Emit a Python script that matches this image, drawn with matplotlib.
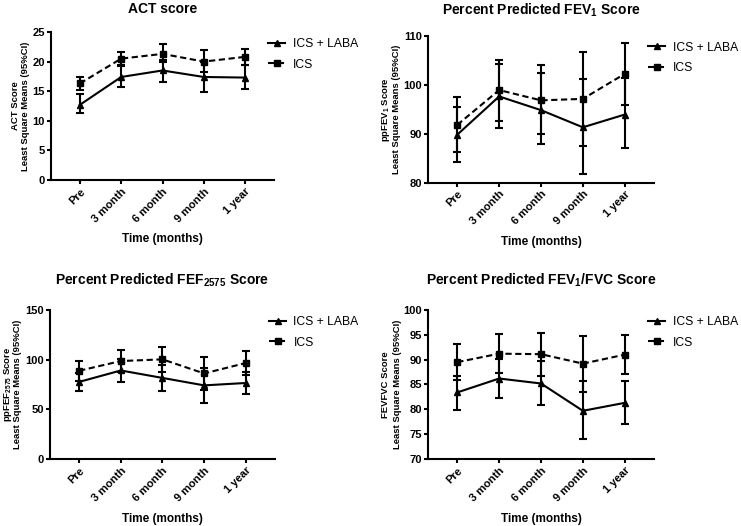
import matplotlib
matplotlib.use('Agg')
import matplotlib.pyplot as plt

plt.rcParams['font.family'] = ['Liberation Sans', 'DejaVu Sans']
plt.rcParams['mathtext.default'] = 'regular'

timepoints = ['Pre', '3 month', '6 month', '9 month', '1 year']

# ACT score
act_laba = [12.7, 17.4, 18.5, 17.4, 17.3]
act_laba_lo = [11.3, 15.7, 16.6, 14.8, 15.3]
act_laba_hi = [14.5, 19.4, 20.3, 20.0, 19.5]
act_ics = [16.3, 20.5, 21.3, 20.0, 20.8]
act_ics_lo = [15.2, 19.2, 20.0, 18.2, 19.5]
act_ics_hi = [17.4, 21.7, 22.9, 22.0, 22.2]

# ppFEV1
fev_laba = [89.8, 97.6, 94.8, 91.3, 93.9]
fev_laba_lo = [84.3, 91.1, 87.8, 81.7, 87.0]
fev_laba_hi = [95.4, 104.2, 102.3, 101.1, 101.3]
fev_ics = [91.8, 98.9, 96.8, 97.1, 102.2]
fev_ics_lo = [86.2, 92.6, 89.9, 87.4, 95.9]
fev_ics_hi = [97.4, 105.1, 104.0, 106.6, 108.5]

# ppFEF2575
fef_laba = [77.6, 89.1, 81.6, 74.1, 76.5]
fef_laba_lo = [68.7, 77.6, 68.7, 56.5, 65.0]
fef_laba_hi = [86.6, 100.6, 94.5, 91.7, 88.0]
fef_ics = [88.8, 98.6, 100.3, 86.1, 96.6]
fef_ics_lo = [78.6, 87.7, 88.0, 69.8, 85.0]
fef_ics_hi = [99.0, 109.5, 112.6, 102.4, 108.2]

# FEV1/FVC
fvc_laba = [83.4, 86.2, 85.2, 79.7, 81.3]
fvc_laba_lo = [79.9, 82.3, 80.8, 74.0, 77.0]
fvc_laba_hi = [86.7, 90.2, 89.7, 85.6, 85.7]
fvc_ics = [89.5, 91.2, 91.1, 89.2, 91.0]
fvc_ics_lo = [86.0, 87.3, 86.7, 83.5, 87.1]
fvc_ics_hi = [93.1, 95.2, 95.3, 94.8, 94.9]

fig = plt.figure(figsize=(7.41, 5.26), dpi=100)

panels = [
    dict(rect=[0.0688, 0.6578, 0.301, 0.2814], title='ACT score', tpad=14,
         ylab1='ACT Score', ylx=(-0.150, -0.105),
         ylim=(0, 25), yticks=range(0, 26, 5),
         laba=(act_laba, act_laba_lo, act_laba_hi), ics=(act_ics, act_ics_lo, act_ics_hi)),
    dict(rect=[0.5776, 0.6527, 0.305, 0.2795], title='Percent Predicted $FEV_1$ Score', tpad=15,
         ylab1='pp$FEV_1$ Score', ylx=(-0.177, -0.129),
         ylim=(80, 110), yticks=range(80, 111, 10),
         laba=(fev_laba, fev_laba_lo, fev_laba_hi), ics=(fev_ics, fev_ics_lo, fev_ics_hi)),
    dict(rect=[0.0675, 0.1274, 0.3035, 0.2833], title='Percent Predicted $FEF_{2575}$ Score', tpad=18,
         ylab1='pp$FEF_{2575}$ Score', ylx=(-0.180, -0.134),
         ylim=(0, 150), yticks=range(0, 151, 50),
         laba=(fef_laba, fef_laba_lo, fef_laba_hi), ics=(fef_ics, fef_ics_lo, fef_ics_hi)),
    dict(rect=[0.5776, 0.1274, 0.305, 0.2833], title='Percent Predicted $FEV_1$/FVC Score', tpad=18,
         ylab1='FEVFVC Score', ylx=(-0.175, -0.126),
         ylim=(70, 100), yticks=range(70, 101, 5),
         laba=(fvc_laba, fvc_laba_lo, fvc_laba_hi), ics=(fvc_ics, fvc_ics_lo, fvc_ics_hi)),
]

x = list(range(len(timepoints)))

for p in panels:
    ax = fig.add_axes(p['rect'])
    for key, ls, mk, lab in [('ics', (0, (3, 1.7)), 's', 'ICS'), ('laba', '-', '^', 'ICS + LABA')]:
        mean, lo, hi = p[key]
        err = [[m - l for m, l in zip(mean, lo)], [h - m for m, h in zip(mean, hi)]]
        ax.errorbar(x, mean, yerr=err, fmt='none', ecolor='black', elinewidth=1.5,
                    capsize=2.6, capthick=1.5, zorder=2)
        ax.plot(x, mean, color='black', linestyle=ls, linewidth=1.5, marker=mk,
                markersize=4.8, label=lab, zorder=3)

    ax.set_xlim(-0.7, 4.7)
    ax.set_ylim(*p['ylim'])
    ax.set_yticks(list(p['yticks']))
    ax.set_xticks(x)
    ax.set_xticklabels(timepoints, rotation=45, ha='right', rotation_mode='anchor',
                       fontsize=8, fontweight='bold')
    for lbl in ax.get_yticklabels():
        lbl.set_fontsize(8)
        lbl.set_fontweight('bold')
    ax.spines['top'].set_visible(False)
    ax.spines['right'].set_visible(False)
    ax.spines['left'].set_linewidth(1.5)
    ax.spines['bottom'].set_linewidth(1.5)
    ax.tick_params(width=1.5, length=3, pad=1.5)

    ax.set_title(p['title'], fontsize=10, fontweight='bold', pad=p['tpad'])
    ax.set_xlabel('Time (months)', fontsize=8.5, fontweight='bold')
    ax.xaxis.set_label_coords(0.5, -0.36)

    # two-line y label, each line placed on its own baseline
    for txt, xpos in zip([p['ylab1'], 'Least Square Means (95%CI)'], p['ylx']):
        ax.text(xpos, 0.5, txt, transform=ax.transAxes, rotation=90, rotation_mode='anchor',
                ha='center', va='baseline', fontsize=6.8, fontweight='bold')

    handles, labels = ax.get_legend_handles_labels()
    ax.legend(handles[::-1], labels[::-1], loc='upper left', bbox_to_anchor=(0.975, 0.96),
              frameon=False, fontsize=8.7, handlelength=1.4, handletextpad=0.6,
              borderpad=0, borderaxespad=0, labelspacing=0.72)

plt.savefig('out.png', dpi=100)
